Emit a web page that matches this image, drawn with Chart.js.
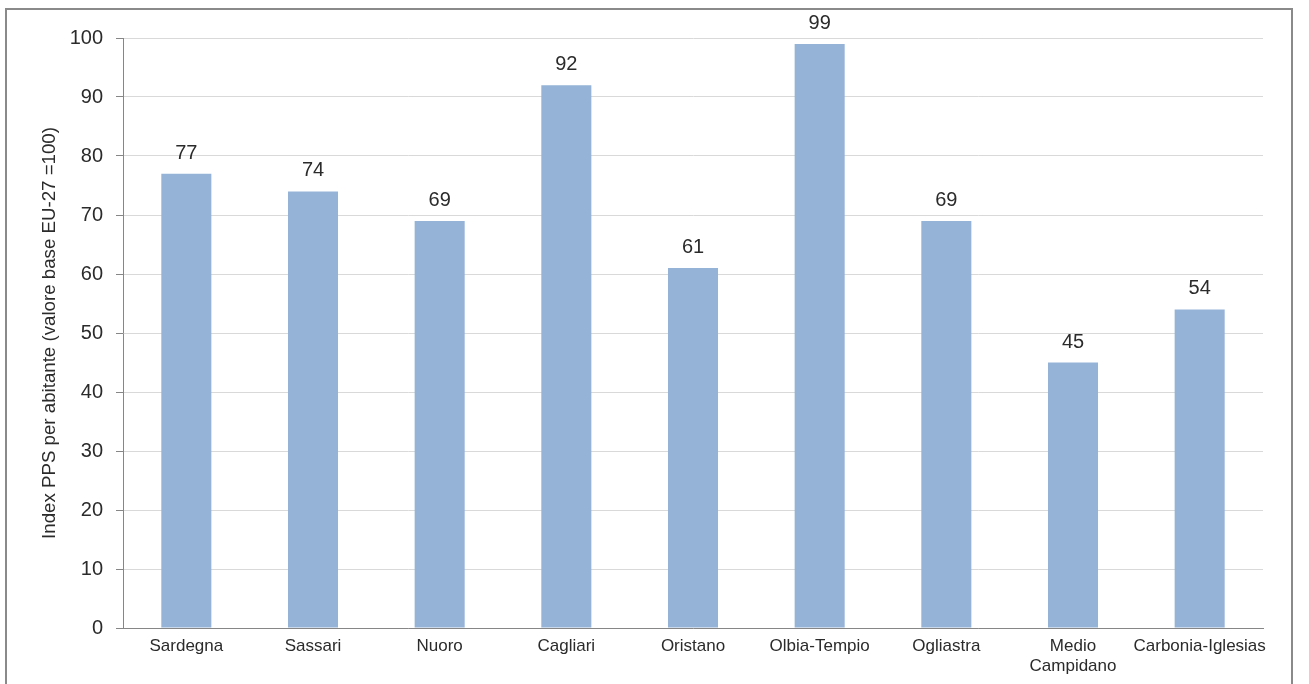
<!DOCTYPE html>
<html>
<head>
<meta charset="utf-8">
<script src="https://cdn.jsdelivr.net/npm/chart.js@4/dist/chart.umd.min.js"></script>
<style>
  html, body { margin: 0; padding: 0; background: #ffffff; }
  #wrap { width: 1309px; height: 684px; }
</style>
</head>
<body>
<div id="wrap"><canvas id="chart" width="1309" height="684"></canvas></div>
<script>
// Province della Sardegna: PIL pro capite in PPS (EU-27 = 100)
const categories = ['Sardegna', 'Sassari', 'Nuoro', 'Cagliari', 'Oristano', 'Olbia-Tempio', 'Ogliastra', ['Medio', 'Campidano'], 'Carbonia-Iglesias'];
const values = [77, 74, 69, 92, 61, 99, 69, 45, 54];
const yMin = 0;
const yMax = 100;
const yStep = 10;
const yTitle = 'Index PPS per abitante (valore base EU-27 =100)';

const TEXT = '#2b2b2b';
const FONT = "'Liberation Sans', Arial, sans-serif";

// outer frame around the whole chart
const framePlugin = {
  id: 'frame',
  beforeDraw(chart) {
    const ctx = chart.ctx;
    ctx.save();
    ctx.fillStyle = '#ffffff';
    ctx.fillRect(0, 0, chart.width, chart.height);
    ctx.strokeStyle = '#8a8a8a';
    ctx.lineWidth = 2;
    ctx.strokeRect(6, 9, 1286, 800);
    ctx.restore();
  }
};

// value written above each bar
const valueLabels = {
  id: 'valueLabels',
  afterDatasetsDraw(chart) {
    const ctx = chart.ctx;
    const meta = chart.getDatasetMeta(0);
    const data = chart.data.datasets[0].data;
    ctx.save();
    ctx.font = '20px ' + FONT;
    ctx.fillStyle = TEXT;
    ctx.textAlign = 'center';
    ctx.textBaseline = 'alphabetic';
    meta.data.forEach((bar, i) => {
      ctx.fillText(String(data[i]), bar.x, bar.y - 15);
    });
    ctx.restore();
  }
};

new Chart(document.getElementById('chart'), {
  type: 'bar',
  data: {
    labels: categories,
    datasets: [{
      data: values,
      backgroundColor: '#95b3d7',
      borderWidth: 0,
      barPercentage: 0.395,
      categoryPercentage: 1.0
    }]
  },
  options: {
    responsive: false,
    animation: false,
    devicePixelRatio: 1,
    layout: { padding: { top: 38, right: 46, left: 0, bottom: 0 } },
    plugins: {
      legend: { display: false },
      tooltip: { enabled: false }
    },
    scales: {
      x: {
        offset: true,
        grid: { display: false, drawTicks: false },
        border: { display: true, color: '#868686', width: 1 },
        ticks: {
          color: TEXT,
          font: { family: FONT, size: 17, lineHeight: 1.2 },
          padding: 8,
          maxRotation: 0,
          autoSkip: false
        },
        afterFit(scale) { scale.height = 56; }
      },
      y: {
        min: yMin,
        max: yMax,
        grid: { color: '#d9d9d9', lineWidth: 1, tickColor: '#868686', tickLength: 7, drawTicks: true },
        border: { display: true, color: '#868686', width: 1 },
        ticks: {
          stepSize: yStep,
          color: TEXT,
          font: { family: FONT, size: 20 },
          padding: 13
        },
        title: {
          display: true,
          text: yTitle,
          color: TEXT,
          font: { family: FONT, size: 18.7, lineHeight: 1.2 },
          padding: { top: 39, bottom: 0 }
        },
        afterFit(scale) { scale.width = 123; }
      }
    }
  },
  plugins: [framePlugin, valueLabels]
});
</script>
</body>
</html>
